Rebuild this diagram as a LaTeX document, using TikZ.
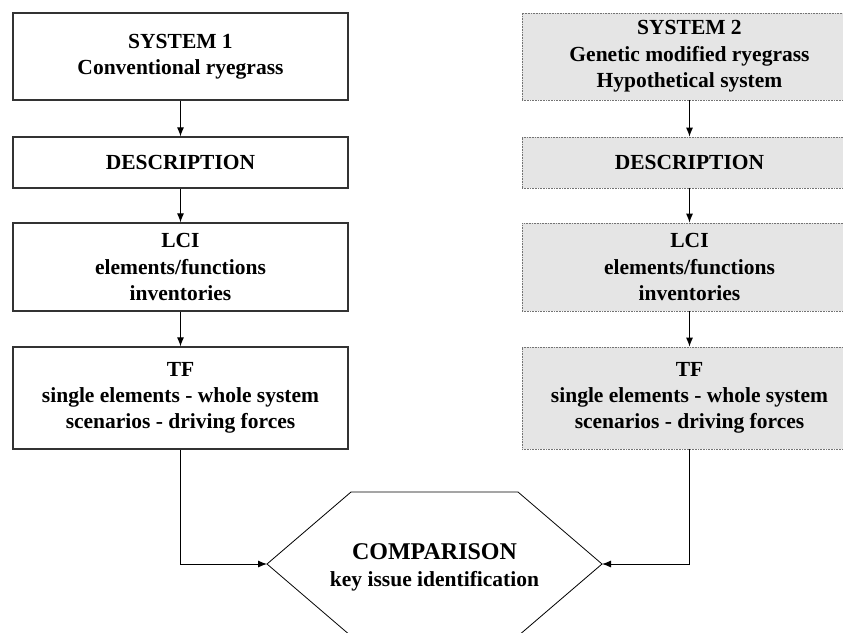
\documentclass[tikz,border=0pt]{standalone}
\usepackage{fontspec}
\setmainfont{Liberation Serif}
\usetikzlibrary{arrows.meta}
\begin{document}
\begin{tikzpicture}[x=1pt,y=-1pt,
  box/.style={rectangle,draw=black!80,line width=1.3pt,minimum width=335pt,inner sep=0pt,
    align=center,font=\fontsize{21.5}{26.3}\selectfont\bfseries},
  gmbox/.style={box,draw=black!55,line width=0.8pt,dash pattern=on 0.8pt off 0.8pt,fill=black!10},
  link/.style={line width=0.9pt,-{Latex[length=9pt,width=7pt]}}]
\useasboundingbox (0,0) rectangle (843,632);
\clip (0,0) rectangle (843,632);

% system 1
\node[box,minimum height=87pt] (sysA) at (180.5,56.5) {SYSTEM 1\\Conventional ryegrass};
\node[box,minimum height=51pt] (descA) at (180.5,162.5) {DESCRIPTION};
\node[box,minimum height=88pt] (lciA) at (180.5,267) {LCI\\elements/functions\\inventories};
\node[box,minimum height=102pt] (tfA) at (180.5,398) {TF\\single elements - whole system\\scenarios - driving forces};

% system 2
\node[gmbox,minimum height=87pt] (sysB) at (689.5,56.5) {SYSTEM 2\\Genetic modified ryegrass\\Hypothetical system};
\node[gmbox,minimum height=51pt] (descB) at (689.5,162.5) {DESCRIPTION};
\node[gmbox,minimum height=88pt] (lciB) at (689.5,267) {LCI\\elements/functions\\inventories};
\node[gmbox,minimum height=102pt] (tfB) at (689.5,398) {TF\\single elements - whole system\\scenarios - driving forces};

% comparison
\coordinate (cmpW) at (267,564);
\coordinate (cmpE) at (602,564);
\draw[line width=0.8pt] (cmpW) -- (351,492) -- (518,492) -- (cmpE) -- (518,636) -- (351,636) -- cycle;
\node[align=center,font=\fontsize{21.5}{27}\selectfont\bfseries] (cmp) at (434.5,567)
  {{\fontsize{24}{27}\selectfont COMPARISON}\\key issue identification};

\draw[link] (sysA) -- (descA);
\draw[link] (descA) -- (lciA);
\draw[link] (lciA) -- (tfA);
\draw[link] (sysB) -- (descB);
\draw[link] (descB) -- (lciB);
\draw[link] (lciB) -- (tfB);
\draw[link] (tfA.south) |- (cmpW);
\draw[link] (tfB.south) |- (cmpE);

\end{tikzpicture}
\end{document}
